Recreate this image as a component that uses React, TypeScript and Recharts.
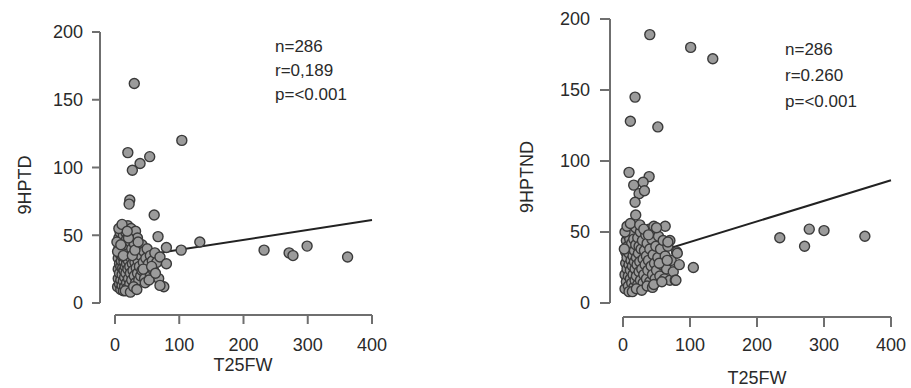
import React from 'react';
import { ScatterChart, Scatter, XAxis, YAxis, ReferenceLine, Label } from 'recharts';

const xTicks = [0, 100, 200, 300, 400];
const yTicks = [0, 50, 100, 150, 200];

// [T25FW, 9HPTD]
const leftPoints: [number, number][] = [
  [4, 12], [5, 18], [5, 25], [5, 33], [6, 40], [6, 48], [7, 14], [7, 22], [7, 29], [8, 36], [8, 44], [8, 52],
  [9, 10], [9, 17], [9, 27], [10, 31], [10, 38], [10, 55], [11, 13], [11, 21], [11, 46], [12, 26], [12, 34],
  [12, 41], [13, 9], [13, 16], [13, 50], [14, 24], [14, 30], [14, 37], [15, 12], [15, 19], [15, 44], [15, 56],
  [16, 27], [16, 33], [17, 22], [17, 40], [17, 52], [18, 15], [18, 29], [18, 47], [19, 11], [19, 35], [20, 25],
  [20, 42], [20, 57], [21, 18], [21, 31], [22, 37], [22, 50], [23, 14], [23, 27], [24, 22], [24, 45], [25, 33],
  [25, 55], [26, 17], [26, 40], [27, 29], [27, 50], [28, 11], [28, 24], [29, 36], [30, 20], [30, 44], [31, 30],
  [32, 15], [32, 53], [33, 26], [34, 38], [35, 22], [35, 48], [36, 31], [37, 17], [38, 41], [38, 27], [40, 35],
  [40, 20], [42, 24], [42, 43], [44, 30], [45, 38], [46, 18], [48, 33], [50, 25], [50, 40], [52, 29], [55, 35],
  [55, 20], [58, 31], [60, 24], [62, 37], [65, 30], [68, 18], [70, 34], [3, 45], [4, 38], [6, 55], [11, 58],
  [16, 9], [21, 48], [24, 8], [29, 12], [34, 10], [19, 53], [9, 43], [13, 35], [27, 35], [31, 39], [36, 45],
  [44, 25], [47, 15], [53, 17], [57, 27], [63, 22],
  [30, 162], [104, 120], [20, 111], [54, 108], [39, 103], [27, 98], [23, 76], [22, 73], [61, 65], [67, 49],
  [80, 41], [103, 39], [132, 45], [232, 39], [271, 37], [277, 35], [299, 42], [362, 34], [80, 29], [76, 12],
  [70, 13],
];

// [T25FW, 9HPTND]
const rightPoints: [number, number][] = [
  [3, 10], [3, 20], [4, 28], [4, 36], [5, 44], [5, 15], [6, 24], [6, 32], [7, 40], [7, 48], [8, 12], [8, 19],
  [9, 27], [9, 35], [10, 45], [10, 52], [11, 17], [11, 23], [12, 30], [12, 38], [13, 14], [13, 42], [14, 26],
  [14, 50], [15, 20], [15, 33], [16, 11], [16, 45], [17, 29], [17, 37], [18, 16], [18, 24], [19, 41], [19, 53],
  [20, 19], [20, 32], [21, 27], [22, 13], [22, 46], [23, 35], [24, 22], [24, 40], [25, 29], [26, 16], [26, 50],
  [27, 38], [28, 24], [29, 44], [30, 14], [30, 31], [31, 20], [32, 37], [33, 27], [34, 48], [35, 17], [35, 33],
  [36, 42], [37, 23], [38, 30], [39, 52], [40, 15], [40, 38], [42, 26], [43, 45], [44, 20], [45, 34], [46, 54],
  [47, 28], [48, 17], [49, 40], [50, 23], [52, 32], [53, 47], [55, 19], [56, 38], [58, 27], [60, 44], [62, 17],
  [63, 33], [65, 24], [67, 40], [70, 16], [72, 30], [75, 22], [78, 16], [80, 36], [2, 38], [3, 50], [6, 54],
  [9, 8], [14, 8], [20, 10], [28, 9], [36, 12], [44, 11], [11, 56], [25, 55], [31, 52], [38, 48], [46, 13],
  [54, 28], [58, 15], [66, 30], [70, 44],
  [40, 189], [101, 180], [134, 172], [18, 145], [11, 128], [52, 124], [9, 92], [39, 89], [30, 85], [16, 83],
  [24, 77], [32, 79], [18, 71], [19, 62], [234, 46], [278, 52], [300, 51], [271, 40], [361, 47], [105, 25],
  [84, 27], [81, 35], [79, 16], [63, 54], [50, 53], [67, 43],
];

const leftFit: [number, number][] = [[5, 32.4], [400, 61.2]];
const rightFit: [number, number][] = [[5, 29.2], [400, 86.5]];

const leftStats = ['n=286', 'r=0,189', 'p=<0.001'];
const rightStats = ['n=286', 'r=0.260', 'p=<0.001'];

const FONT = '"Liberation Sans", Arial, Helvetica, sans-serif';
const AXIS_COLOR = '#6f6f6f';
const TEXT_COLOR = '#2a2a2a';

type PanelProps = {
  left: number;
  width: number;
  height: number;
  margin: { top: number; right: number; bottom: number; left: number };
  yAxisWidth: number;
  yGap: number;
  xAxisHeight: number;
  xGap: number;
  xTickSize: number;
  xTickMargin: number;
  yTickSize: number;
  yTickMargin: number;
  points: [number, number][];
  fit: [number, number][];
  xTitle: string;
  yTitle: string;
  xTitlePos: [number, number];
  yTitlePos: [number, number];
  stats: string[];
  statsX: number;
  statsY: number[];
};

function Panel(p: PanelProps) {
  const data = p.points.map(([x, y]) => ({ x, y }));
  const tickStyle = { fontSize: 18, fill: TEXT_COLOR, fontFamily: FONT };
  const lineStyle = { stroke: AXIS_COLOR, strokeWidth: 2 };
  return (
    <div style={{ position: 'absolute', left: p.left, top: 0, width: p.width, height: p.height }}>
      <ScatterChart width={p.width} height={p.height} margin={p.margin}>
        {/* spacer axes that detach the visible axes from the plot area */}
        <XAxis
          xAxisId="a"
          type="number"
          domain={[0, 400]}
          ticks={xTicks}
          height={p.xGap}
          axisLine={false}
          tickLine={false}
          tick={false}
        />
        <XAxis
          xAxisId="b"
          type="number"
          dataKey="x"
          domain={[0, 400]}
          ticks={xTicks}
          axisLine={lineStyle}
          tickLine={lineStyle}
          tickSize={p.xTickSize}
          tickMargin={p.xTickMargin}
          height={p.xAxisHeight}
          tick={tickStyle}
          interval={0}
        >
          <Label
            content={() => (
              <text
                x={p.xTitlePos[0]}
                y={p.xTitlePos[1]}
                textAnchor="middle"
                dominantBaseline="central"
                fontSize={18}
                fontFamily={FONT}
                fill={TEXT_COLOR}
              >
                {p.xTitle}
              </text>
            )}
          />
        </XAxis>
        <YAxis
          yAxisId="a"
          type="number"
          domain={[0, 200]}
          ticks={yTicks}
          width={p.yGap}
          axisLine={false}
          tickLine={false}
          tick={false}
        />
        <YAxis
          yAxisId="b"
          type="number"
          dataKey="y"
          domain={[0, 200]}
          ticks={yTicks}
          axisLine={lineStyle}
          tickLine={lineStyle}
          tickSize={p.yTickSize}
          tickMargin={p.yTickMargin}
          width={p.yAxisWidth}
          tick={tickStyle}
          interval={0}
        >
          <Label
            content={() => (
              <text
                x={p.yTitlePos[0]}
                y={p.yTitlePos[1]}
                textAnchor="middle"
                dominantBaseline="central"
                fontSize={18}
                fontFamily={FONT}
                fill={TEXT_COLOR}
                transform={`rotate(-90 ${p.yTitlePos[0]} ${p.yTitlePos[1]})`}
              >
                {p.yTitle}
              </text>
            )}
          />
        </YAxis>
        <Scatter
          xAxisId="b"
          yAxisId="b"
          data={data}
          isAnimationActive={false}
          shape={(s: any) => (
            <circle cx={s.cx} cy={s.cy} r={5} fill="#9b9b9b" stroke="#3a3a3a" strokeWidth={1.4} />
          )}
        />
        <ReferenceLine
          xAxisId="b"
          yAxisId="b"
          segment={[{ x: p.fit[0][0], y: p.fit[0][1] }, { x: p.fit[1][0], y: p.fit[1][1] }]}
          stroke="#222"
          strokeWidth={2}
          ifOverflow="visible"
        />
      </ScatterChart>
      {p.stats.map((s, i) => (
        <div
          key={s}
          style={{
            position: 'absolute',
            left: p.statsX - p.left,
            top: p.statsY[i] - 15,
            fontFamily: FONT,
            fontSize: 17,
            lineHeight: '19px',
            color: TEXT_COLOR,
            whiteSpace: 'nowrap',
          }}
        >
          {s}
        </div>
      ))}
    </div>
  );
}

export default function App() {
  return (
    <div style={{ position: 'absolute', left: 0, top: 0, width: 911, height: 388, background: '#fff', overflow: 'hidden' }}>
      <Panel
        left={0}
        width={400}
        height={388}
        margin={{ top: 32, right: 28, bottom: 13, left: 0 }}
        yAxisWidth={100}
        yGap={15}
        xAxisHeight={60}
        xGap={12}
        xTickSize={9}
        xTickMargin={14}
        yTickSize={8}
        yTickMargin={9}
        points={leftPoints}
        fit={leftFit}
        xTitle="T25FW"
        yTitle="9HPTD"
        xTitlePos={[243, 365]}
        yTitlePos={[25, 185]}
        stats={leftStats}
        statsX={275}
        statsY={[52, 76, 100]}
      />
      <Panel
        left={480}
        width={431}
        height={388}
        margin={{ top: 19, right: 20, bottom: 11, left: 0 }}
        yAxisWidth={130}
        yGap={13}
        xAxisHeight={60}
        xGap={14}
        xTickSize={10}
        xTickMargin={11}
        yTickSize={10}
        yTickMargin={10}
        points={rightPoints}
        fit={rightFit}
        xTitle="T25FW"
        yTitle="9HPTND"
        xTitlePos={[757 - 480, 378]}
        yTitlePos={[527 - 480, 177]}
        stats={rightStats}
        statsX={785}
        statsY={[55, 81, 107]}
      />
    </div>
  );
}
